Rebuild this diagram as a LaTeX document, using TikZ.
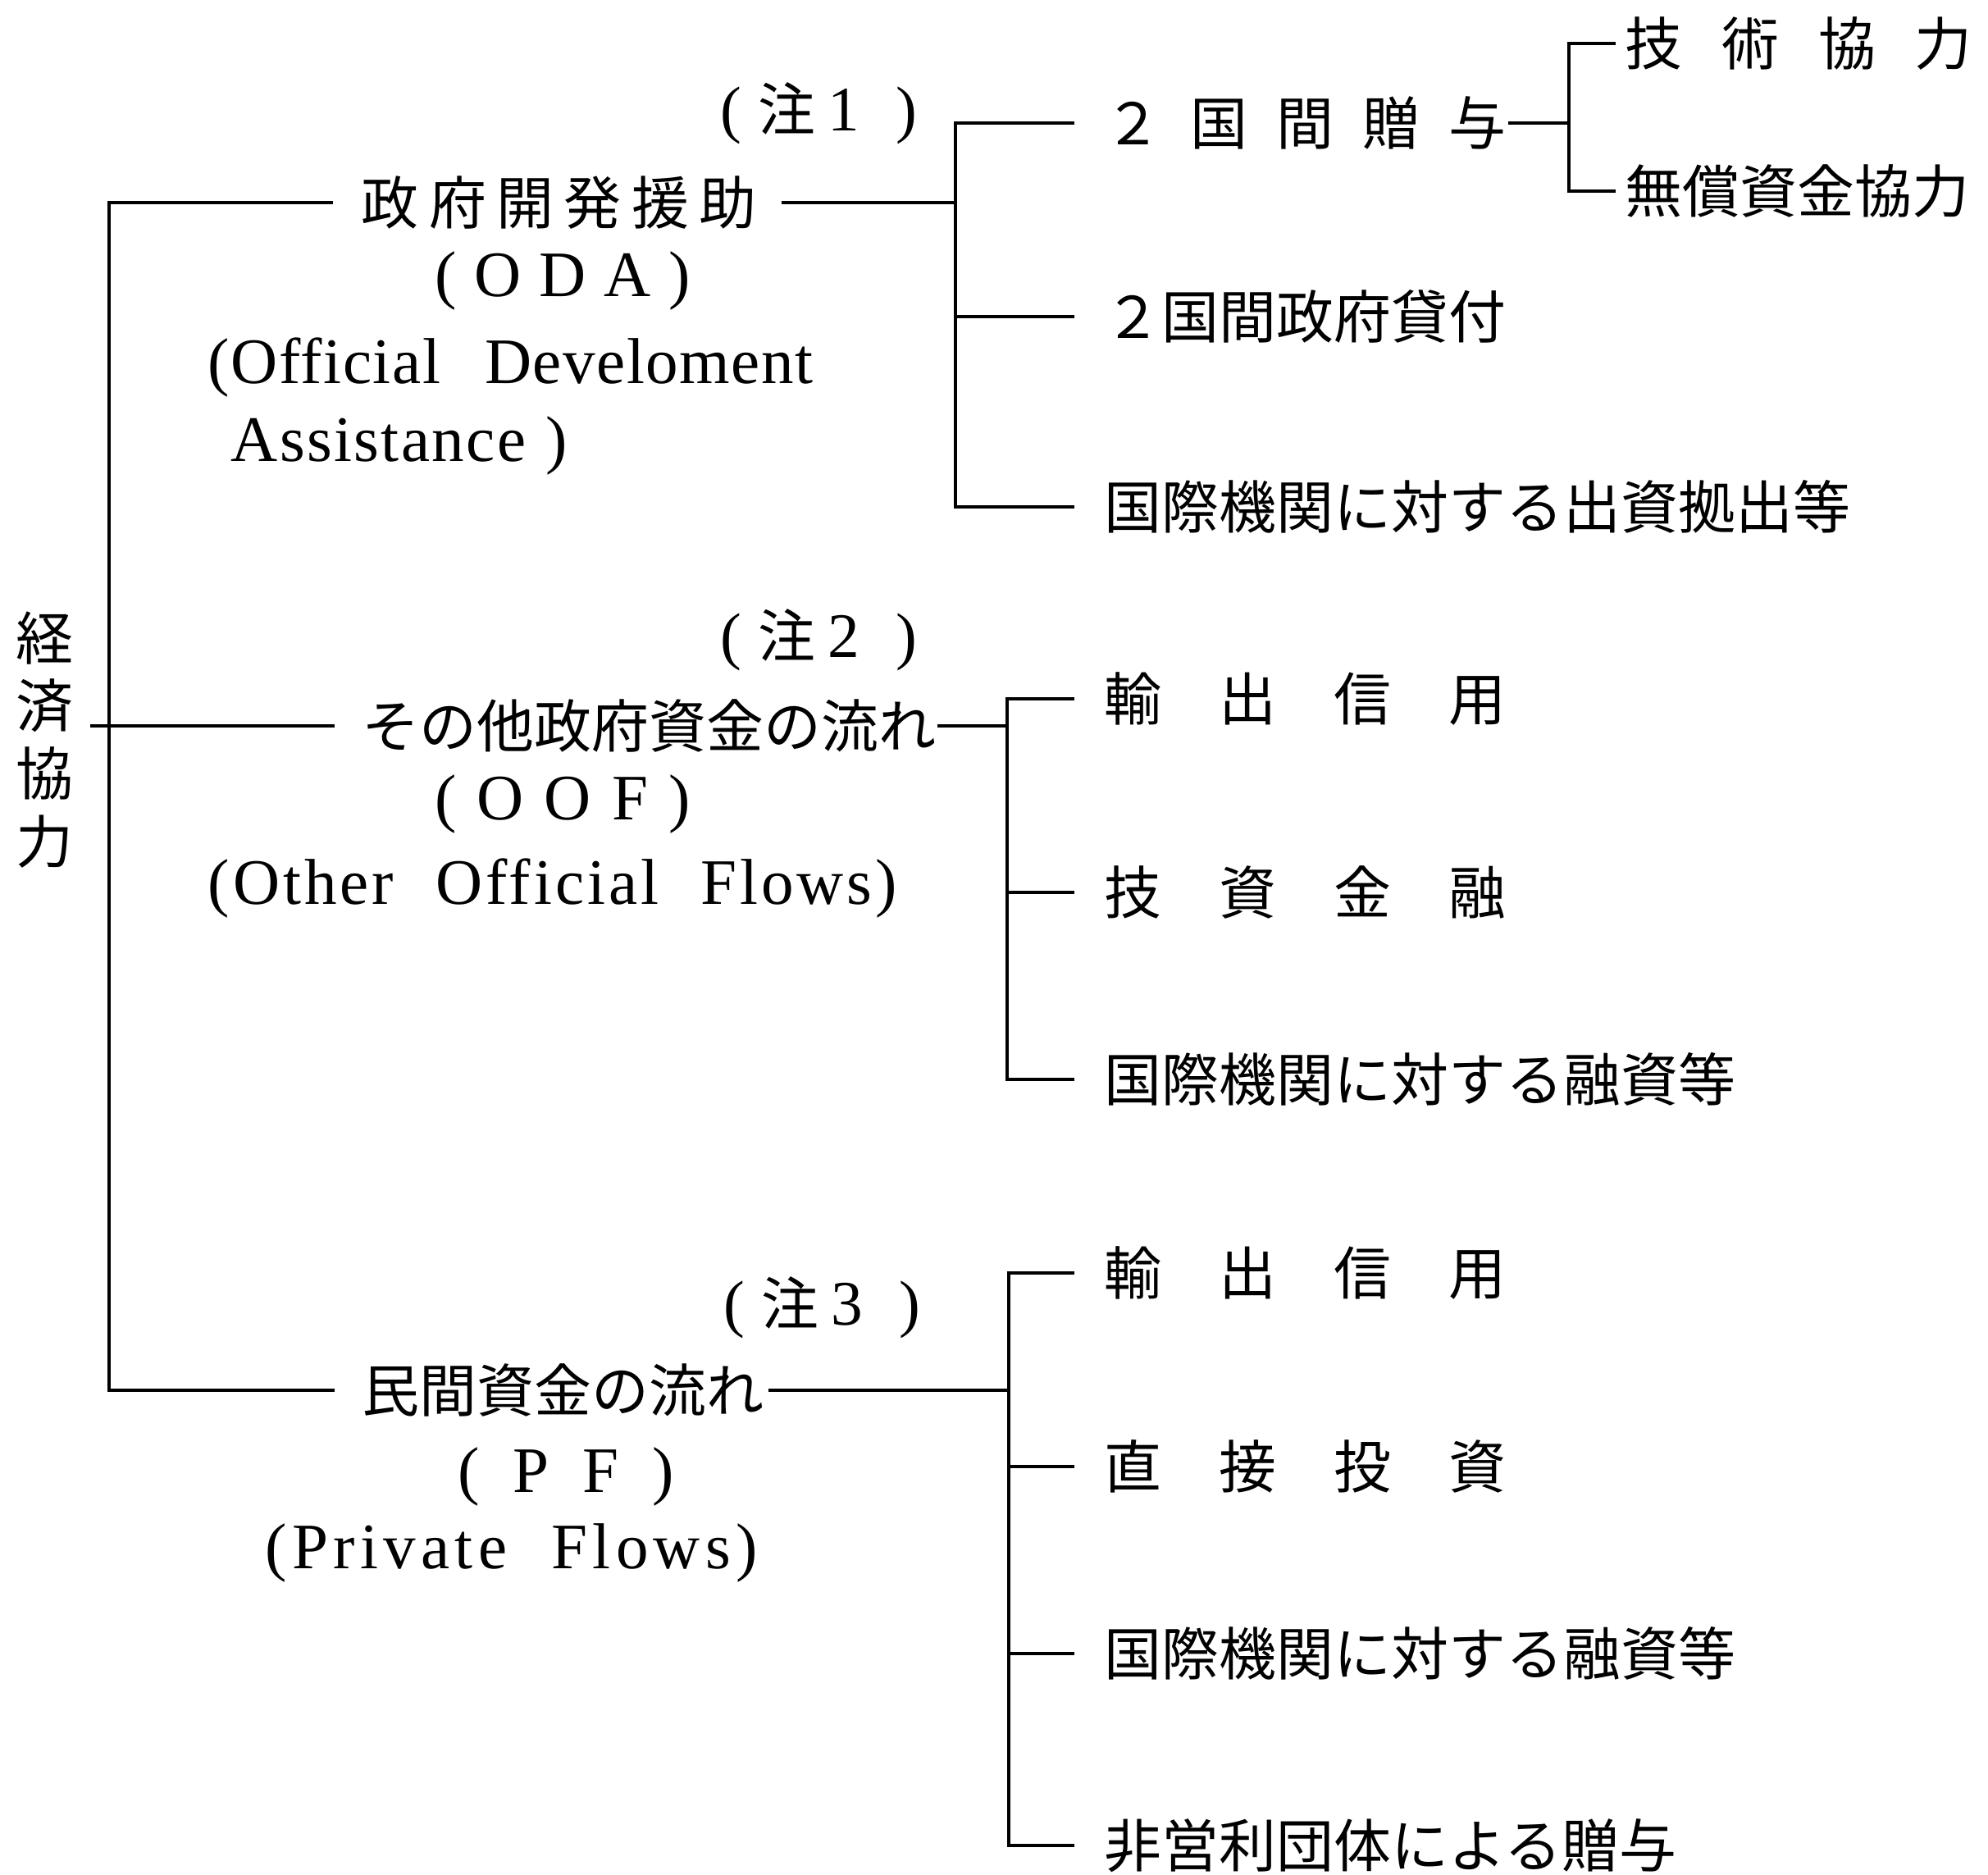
\documentclass[tikz,border=0pt]{standalone}
\usepackage{fontspec}
\setmainfont{Noto Sans CJK JP}
\newfontfamily\jp{Noto Sans CJK JP}
\newfontfamily\en{Liberation Serif}
\newcommand{\spaced}[2]{\makebox[#1][s]{#2}}
\newcommand{\tracked}[1]{\addfontfeature{LetterSpace=#1}}
\newcommand{\notelabel}[1]{\makebox[2.4cm][l]{(\hspace{2mm}{\jp\fontsize{19.9pt}{24pt}\selectfont 注}\hspace{1.5mm}#1\hfill)}}
\usetikzlibrary{positioning}

\begin{document}
\begin{tikzpicture}[x=1cm, y=-1cm, line width=1pt,
	every node/.style={inner sep=0pt, font=\fontsize{19.9pt}{23.6pt}\selectfont},
	cat node/.style={anchor=west},
	item node/.style={anchor=west},
	note node/.style={anchor=west, font=\fontsize{22pt}{26pt}\selectfont\en},
	latin node/.style={font=\fontsize{22.5pt}{26pt}\selectfont\en},
	to item/.style={shorten >=3.5mm}]
	
	\useasboundingbox (0,0) rectangle (24.24,22.86);
	
	% root
	\node[align=center] (econ) at (0.54,9.02) {経\\済\\協\\力};
	
	% ODA
	\node[cat node] (oda) at (4.39,2.47) {\spaced{4.82cm}{政 府 開 発 援 助}};
	\node[note node] (n1) at (8.77,1.38) {\notelabel{1}};
	\node[latin node] (odaabbr) at (6.86,3.42) {\spaced{3.11cm}{( O D A )}};
	\node[latin node, anchor=west] (odaen1) at (2.52,4.48) {\tracked{2}\spaced{7.38cm}{(Official Develoment}};
	\node[latin node, anchor=west] (odaen2) at (2.80,5.43) {\tracked{3}\spaced{4.1cm}{Assistance )}};
	
	\node[item node] (g2) at (13.45,1.50) {\spaced{4.9cm}{２ 国 間 贈 与}};
	\node[item node] (loan) at (13.45,3.86) {２国間政府貸付};
	\node[item node] (oda3) at (13.45,6.18) {国際機関に対する出資拠出等};
	\node[item node] (tech) at (19.80,0.53) {\spaced{4.23cm}{技 術 協 力}};
	\node[item node] (grant) at (19.80,2.33) {無償資金協力};
	
	% OOF
	\node[cat node] (oof) at (4.40,8.85) {その他政府資金の流れ};
	\node[note node] (n2) at (8.77,7.80) {\notelabel{2}};
	\node[latin node] (oofabbr) at (6.86,9.80) {\spaced{3.11cm}{( O O F )}};
	\node[latin node, anchor=west] (oofen) at (2.52,10.83) {\tracked{5}\spaced{8.4cm}{(Other Official Flows)}};
	
	\node[item node] (oof1) at (13.45,8.52) {\spaced{4.9cm}{輸 出 信 用}};
	\node[item node] (oof2) at (13.45,10.88) {\spaced{4.9cm}{技 資 金 融}};
	\node[item node] (oof3) at (13.45,13.16) {国際機関に対する融資等};
	
	% PF
	\node[cat node] (pf) at (4.40,16.95) {民間資金の流れ};
	\node[note node] (n3) at (8.81,15.94) {\notelabel{3}};
	\node[latin node] (pfabbr) at (6.90,18.00) {\spaced{2.63cm}{( P F )}};
	\node[latin node, anchor=west] (pfen) at (3.22,18.93) {\tracked{8}\spaced{6.0cm}{(Private Flows)}};
	
	\node[item node] (pf1) at (13.45,15.52) {\spaced{4.9cm}{輸 出 信 用}};
	\node[item node] (pf2) at (13.45,17.88) {\spaced{4.9cm}{直 接 投 資}};
	\node[item node] (pf3) at (13.45,20.16) {国際機関に対する融資等};
	\node[item node] (pf4) at (13.45,22.50) {非営利団体による贈与};
	
	% brackets
	\coordinate (trunk) at (1.33,8.85);
	\coordinate (odab) at (11.65,2.47);
	\coordinate (subb) at (19.13,1.50);
	\coordinate (oofb) at (12.28,8.85);
	\coordinate (pfb) at (12.30,16.95);
	
	\draw[shorten <=1.9mm, shorten >=3.2mm] (econ.east |- oof.west) -- (oof.west);
	\draw[shorten <=3.3mm, shorten >=3.2mm] (oda.west) -| (trunk) |- (pf.west);
	
	\draw[shorten <=2.8mm] (oda.east) -- (odab);
	\draw[shorten <=3.5mm, shorten >=3.5mm] (g2.west) -| (odab) |- (oda3.west);
	\draw[to item] (odab |- loan) -- (loan.west);
	\draw (g2.east) -- (subb);
	\draw[shorten <=1mm, shorten >=1mm] (tech.west) -| (subb) |- (grant.west);
	
	\draw (oof.east) -- (oofb);
	\draw[shorten <=3.5mm, shorten >=3.5mm] (oof1.west) -| (oofb) |- (oof3.west);
	\draw[to item] (oofb |- oof2) -- (oof2.west);
	
	\draw[shorten <=0.4mm] (pf.east) -- (pfb);
	\draw[shorten <=3.5mm, shorten >=3.5mm] (pf1.west) -| (pfb) |- (pf4.west);
	\draw[to item] (pfb |- pf2) -- (pf2.west);
	\draw[to item] (pfb |- pf3) -- (pf3.west);
	
\end{tikzpicture}
\end{document}
